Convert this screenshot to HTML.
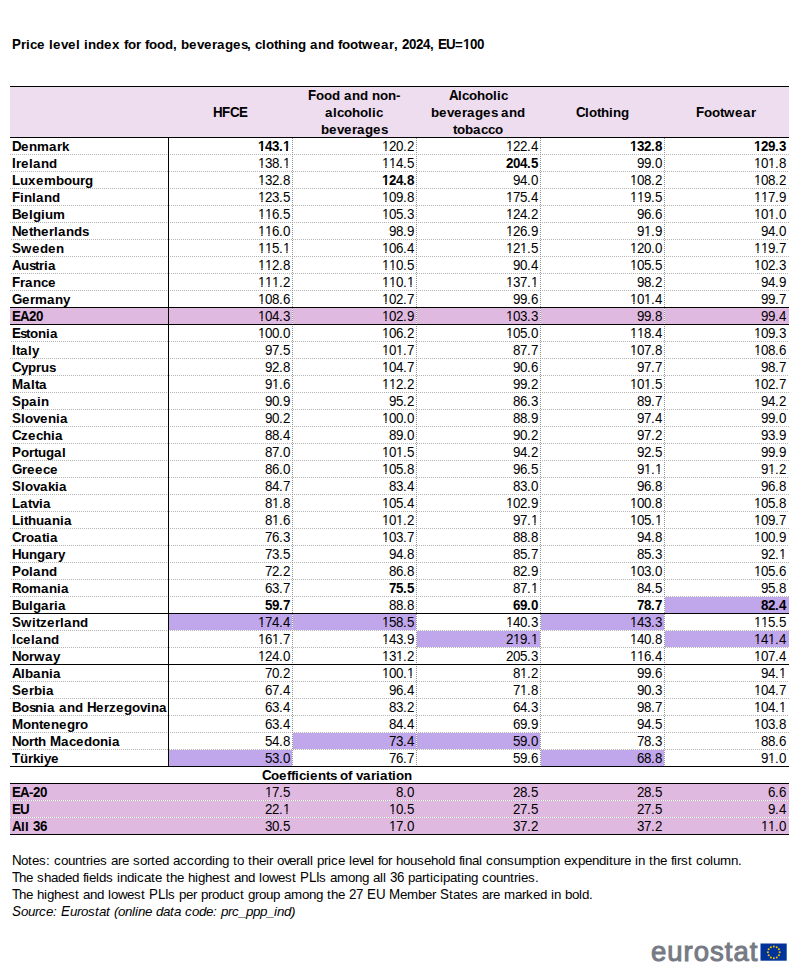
<!DOCTYPE html>
<html><head><meta charset="utf-8"><title>Price level index for food, beverages, clothing and footwear, 2024</title><style>
html,body{margin:0;padding:0;background:#fff}
body{width:803px;height:973px;position:relative;overflow:hidden;font-family:"Liberation Sans",sans-serif;color:#000;font-kerning:none}
i{position:absolute;display:block}
div{position:absolute;white-space:nowrap}
.tx{font-size:13.33px;line-height:17px;height:17px}
.tx span{display:inline-block;overflow:visible}
.tx .u{font-size:14.5px;line-height:16px;transform:scaleX(0.9195);transform-origin:0 0}
.b{font-weight:bold}
.it{font-style:italic}
.w1{width:1px}.w2{width:2px}.w3{width:3px}.w4{width:4px}.w5{width:5px}.w6{width:6px}.w7{width:7px}.w8{width:8px}.w9{width:9px}.w10{width:10px}.w11{width:11px}.w12{width:12px}.w13{width:13px}.w14{width:14px}.w15{width:15px}
.tx .o{clip-path:polygon(0 0,100% 0,100% 11px,4.93px 11px,4.93px 17px,3.65px 17px,3.65px 11px,0 11px)}
.b .o{clip-path:polygon(0 0,100% 0,100% 10.8px,5.37px 10.8px,5.37px 17px,3.38px 17px,3.38px 10.8px,0 10.8px)}
.logo{left:651px;top:934.5px;font-size:27.5px;line-height:34px;color:#767a84;-webkit-text-stroke:1px #767a84;letter-spacing:1px}
</style></head><body>
<i style="left:10px;top:87px;width:779px;height:50px;background:#eedcef"></i><i style="left:10px;top:154px;width:779px;height:1px;background:repeating-linear-gradient(90deg,#b4b4b4 0 1px,transparent 1px 2px)"></i><i style="left:10px;top:171px;width:779px;height:1px;background:repeating-linear-gradient(90deg,transparent 0 1px,#b4b4b4 1px 2px)"></i><i style="left:10px;top:188px;width:779px;height:1px;background:repeating-linear-gradient(90deg,#b4b4b4 0 1px,transparent 1px 2px)"></i><i style="left:10px;top:205px;width:779px;height:1px;background:repeating-linear-gradient(90deg,transparent 0 1px,#b4b4b4 1px 2px)"></i><i style="left:10px;top:222px;width:779px;height:1px;background:repeating-linear-gradient(90deg,#b4b4b4 0 1px,transparent 1px 2px)"></i><i style="left:10px;top:239px;width:779px;height:1px;background:repeating-linear-gradient(90deg,transparent 0 1px,#b4b4b4 1px 2px)"></i><i style="left:10px;top:256px;width:779px;height:1px;background:repeating-linear-gradient(90deg,#b4b4b4 0 1px,transparent 1px 2px)"></i><i style="left:10px;top:273px;width:779px;height:1px;background:repeating-linear-gradient(90deg,transparent 0 1px,#b4b4b4 1px 2px)"></i><i style="left:10px;top:290px;width:779px;height:1px;background:repeating-linear-gradient(90deg,#b4b4b4 0 1px,transparent 1px 2px)"></i><i style="left:10px;top:308px;width:158px;height:16px;background:#e0b9e1"></i><i style="left:169px;top:308px;width:123px;height:16px;background:#e0b9e1"></i><i style="left:293px;top:308px;width:123px;height:16px;background:#e0b9e1"></i><i style="left:417px;top:308px;width:123px;height:16px;background:#e0b9e1"></i><i style="left:541px;top:308px;width:123px;height:16px;background:#e0b9e1"></i><i style="left:665px;top:308px;width:124px;height:16px;background:#e0b9e1"></i><i style="left:10px;top:341px;width:779px;height:1px;background:repeating-linear-gradient(90deg,transparent 0 1px,#b4b4b4 1px 2px)"></i><i style="left:10px;top:358px;width:779px;height:1px;background:repeating-linear-gradient(90deg,#b4b4b4 0 1px,transparent 1px 2px)"></i><i style="left:10px;top:375px;width:779px;height:1px;background:repeating-linear-gradient(90deg,transparent 0 1px,#b4b4b4 1px 2px)"></i><i style="left:10px;top:392px;width:779px;height:1px;background:repeating-linear-gradient(90deg,#b4b4b4 0 1px,transparent 1px 2px)"></i><i style="left:10px;top:409px;width:779px;height:1px;background:repeating-linear-gradient(90deg,transparent 0 1px,#b4b4b4 1px 2px)"></i><i style="left:10px;top:426px;width:779px;height:1px;background:repeating-linear-gradient(90deg,#b4b4b4 0 1px,transparent 1px 2px)"></i><i style="left:10px;top:443px;width:779px;height:1px;background:repeating-linear-gradient(90deg,transparent 0 1px,#b4b4b4 1px 2px)"></i><i style="left:10px;top:460px;width:779px;height:1px;background:repeating-linear-gradient(90deg,#b4b4b4 0 1px,transparent 1px 2px)"></i><i style="left:10px;top:477px;width:779px;height:1px;background:repeating-linear-gradient(90deg,transparent 0 1px,#b4b4b4 1px 2px)"></i><i style="left:10px;top:494px;width:779px;height:1px;background:repeating-linear-gradient(90deg,#b4b4b4 0 1px,transparent 1px 2px)"></i><i style="left:10px;top:511px;width:779px;height:1px;background:repeating-linear-gradient(90deg,transparent 0 1px,#b4b4b4 1px 2px)"></i><i style="left:10px;top:528px;width:779px;height:1px;background:repeating-linear-gradient(90deg,#b4b4b4 0 1px,transparent 1px 2px)"></i><i style="left:10px;top:545px;width:779px;height:1px;background:repeating-linear-gradient(90deg,transparent 0 1px,#b4b4b4 1px 2px)"></i><i style="left:10px;top:562px;width:779px;height:1px;background:repeating-linear-gradient(90deg,#b4b4b4 0 1px,transparent 1px 2px)"></i><i style="left:10px;top:579px;width:779px;height:1px;background:repeating-linear-gradient(90deg,transparent 0 1px,#b4b4b4 1px 2px)"></i><i style="left:10px;top:596px;width:779px;height:1px;background:repeating-linear-gradient(90deg,#b4b4b4 0 1px,transparent 1px 2px)"></i><i style="left:665px;top:597px;width:124px;height:16px;background:#c0a6eb"></i><i style="left:169px;top:614px;width:123px;height:16px;background:#c0a6eb"></i><i style="left:293px;top:614px;width:123px;height:16px;background:#c0a6eb"></i><i style="left:541px;top:614px;width:123px;height:16px;background:#c0a6eb"></i><i style="left:10px;top:630px;width:779px;height:1px;background:repeating-linear-gradient(90deg,#b4b4b4 0 1px,transparent 1px 2px)"></i><i style="left:417px;top:631px;width:123px;height:16px;background:#c0a6eb"></i><i style="left:665px;top:631px;width:124px;height:16px;background:#c0a6eb"></i><i style="left:10px;top:647px;width:779px;height:1px;background:repeating-linear-gradient(90deg,transparent 0 1px,#b4b4b4 1px 2px)"></i><i style="left:10px;top:681px;width:779px;height:1px;background:repeating-linear-gradient(90deg,transparent 0 1px,#b4b4b4 1px 2px)"></i><i style="left:10px;top:698px;width:779px;height:1px;background:repeating-linear-gradient(90deg,#b4b4b4 0 1px,transparent 1px 2px)"></i><i style="left:10px;top:715px;width:779px;height:1px;background:repeating-linear-gradient(90deg,transparent 0 1px,#b4b4b4 1px 2px)"></i><i style="left:10px;top:732px;width:779px;height:1px;background:repeating-linear-gradient(90deg,#b4b4b4 0 1px,transparent 1px 2px)"></i><i style="left:293px;top:733px;width:123px;height:16px;background:#c0a6eb"></i><i style="left:417px;top:733px;width:123px;height:16px;background:#c0a6eb"></i><i style="left:10px;top:749px;width:779px;height:1px;background:repeating-linear-gradient(90deg,transparent 0 1px,#b4b4b4 1px 2px)"></i><i style="left:169px;top:750px;width:123px;height:16px;background:#c0a6eb"></i><i style="left:541px;top:750px;width:123px;height:16px;background:#c0a6eb"></i><i style="left:292px;top:138px;width:1px;height:628px;background:repeating-linear-gradient(180deg,#949494 0 1px,transparent 1px 2px)"></i><i style="left:416px;top:138px;width:1px;height:628px;background:repeating-linear-gradient(180deg,#949494 0 1px,transparent 1px 2px)"></i><i style="left:540px;top:138px;width:1px;height:628px;background:repeating-linear-gradient(180deg,#949494 0 1px,transparent 1px 2px)"></i><i style="left:664px;top:138px;width:1px;height:628px;background:repeating-linear-gradient(180deg,#949494 0 1px,transparent 1px 2px)"></i><i style="left:10px;top:784px;width:779px;height:16px;background:#e0b9e1"></i><i style="left:10px;top:800px;width:779px;height:1px;background:repeating-linear-gradient(90deg,#b4b4b4 0 1px,transparent 1px 2px)"></i><i style="left:10px;top:801px;width:779px;height:16px;background:#e0b9e1"></i><i style="left:10px;top:817px;width:779px;height:1px;background:repeating-linear-gradient(90deg,transparent 0 1px,#b4b4b4 1px 2px)"></i><i style="left:10px;top:818px;width:779px;height:16px;background:#e0b9e1"></i><i style="left:10px;top:86px;width:779px;height:1px;background:#000"></i><i style="left:10px;top:137px;width:779px;height:1px;background:#000"></i><i style="left:10px;top:307px;width:779px;height:1px;background:#000"></i><i style="left:10px;top:324px;width:779px;height:1px;background:#000"></i><i style="left:10px;top:613px;width:779px;height:1px;background:#000"></i><i style="left:10px;top:664px;width:779px;height:1px;background:#000"></i><i style="left:10px;top:766px;width:779px;height:1px;background:#000"></i><i style="left:168px;top:138px;width:1px;height:629px;background:#000"></i><i style="left:10px;top:783px;width:779px;height:1px;background:#000"></i><i style="left:10px;top:834px;width:779px;height:1px;background:#000"></i>
<div class="tx b" style="left:12px;top:36px"><span class="w9 u">P</span><span class="w5">r</span><span class="w4">i</span><span class="w7">c</span><span class="w8">e</span><span class="w4"> </span><span class="w4">l</span><span class="w8">e</span><span class="w7">v</span><span class="w8">e</span><span class="w4">l</span><span class="w4"> </span><span class="w4">i</span><span class="w8">n</span><span class="w8">d</span><span class="w8">e</span><span class="w8">x</span><span class="w4"> </span><span class="w4">f</span><span class="w8">o</span><span class="w5">r</span><span class="w4"> </span><span class="w4">f</span><span class="w8">o</span><span class="w8">o</span><span class="w8">d</span><span class="w4">,</span><span class="w4"> </span><span class="w8">b</span><span class="w8">e</span><span class="w7">v</span><span class="w8">e</span><span class="w5">r</span><span class="w8">a</span><span class="w8">g</span><span class="w8">e</span><span class="w6">s</span><span class="w4">,</span><span class="w4"> </span><span class="w7">c</span><span class="w4">l</span><span class="w8">o</span><span class="w4">t</span><span class="w8">h</span><span class="w4">i</span><span class="w8">n</span><span class="w8">g</span><span class="w4"> </span><span class="w8">a</span><span class="w8">n</span><span class="w8">d</span><span class="w4"> </span><span class="w4">f</span><span class="w8">o</span><span class="w8">o</span><span class="w4">t</span><span class="w11">w</span><span class="w8">e</span><span class="w8">a</span><span class="w5">r</span><span class="w4">,</span><span class="w4"> </span><span class="w7 u">2</span><span class="w7 u">0</span><span class="w7 u">2</span><span class="w7 u">4</span><span class="w4">,</span><span class="w4"> </span><span class="w8 u">E</span><span class="w9 u">U</span><span class="w8">=</span><span class="w7 u o">1</span><span class="w7 u">0</span><span class="w7 u">0</span></div><div class="tx b" style="left:213px;top:104px"><span class="w9 u">H</span><span class="w8 u">F</span><span class="w9 u">C</span><span class="w8 u">E</span></div><div class="tx b" style="left:308px;top:87px"><span class="w8 u">F</span><span class="w8">o</span><span class="w8">o</span><span class="w8">d</span><span class="w4"> </span><span class="w8">a</span><span class="w8">n</span><span class="w8">d</span><span class="w4"> </span><span class="w8">n</span><span class="w8">o</span><span class="w8">n</span><span class="w4">-</span></div><div class="tx b" style="left:325px;top:104px"><span class="w8">a</span><span class="w4">l</span><span class="w7">c</span><span class="w8">o</span><span class="w8">h</span><span class="w8">o</span><span class="w4">l</span><span class="w4">i</span><span class="w7">c</span></div><div class="tx b" style="left:321px;top:121px"><span class="w8">b</span><span class="w8">e</span><span class="w7">v</span><span class="w8">e</span><span class="w5">r</span><span class="w8">a</span><span class="w8">g</span><span class="w8">e</span><span class="w6">s</span></div><div class="tx b" style="left:449px;top:87px"><span class="w9 u">A</span><span class="w4">l</span><span class="w7">c</span><span class="w8">o</span><span class="w8">h</span><span class="w8">o</span><span class="w4">l</span><span class="w4">i</span><span class="w7">c</span></div><div class="tx b" style="left:431px;top:104px"><span class="w8">b</span><span class="w8">e</span><span class="w7">v</span><span class="w8">e</span><span class="w5">r</span><span class="w8">a</span><span class="w8">g</span><span class="w8">e</span><span class="w6">s</span><span class="w4"> </span><span class="w8">a</span><span class="w8">n</span><span class="w8">d</span></div><div class="tx b" style="left:453px;top:121px"><span class="w4">t</span><span class="w8">o</span><span class="w8">b</span><span class="w8">a</span><span class="w7">c</span><span class="w7">c</span><span class="w8">o</span></div><div class="tx b" style="left:576px;top:104px"><span class="w9 u">C</span><span class="w4">l</span><span class="w8">o</span><span class="w4">t</span><span class="w8">h</span><span class="w4">i</span><span class="w8">n</span><span class="w8">g</span></div><div class="tx b" style="left:696px;top:104px"><span class="w8 u">F</span><span class="w8">o</span><span class="w8">o</span><span class="w4">t</span><span class="w11">w</span><span class="w8">e</span><span class="w8">a</span><span class="w5">r</span></div><div class="tx b" style="left:12px;top:138px"><span class="w9 u">D</span><span class="w8">e</span><span class="w8">n</span><span class="w12">m</span><span class="w8">a</span><span class="w5">r</span><span class="w7">k</span></div><div class="tx b" style="left:258px;top:138px"><span class="w7 u o">1</span><span class="w7 u">4</span><span class="w7 u">3</span><span class="w4">.</span><span class="w7 u o">1</span></div><div class="tx" style="left:382px;top:138px"><span class="w7 u o">1</span><span class="w7 u">2</span><span class="w7 u">0</span><span class="w4">.</span><span class="w7 u">2</span></div><div class="tx" style="left:506px;top:138px"><span class="w7 u o">1</span><span class="w7 u">2</span><span class="w7 u">2</span><span class="w4">.</span><span class="w7 u">4</span></div><div class="tx b" style="left:630px;top:138px"><span class="w7 u o">1</span><span class="w7 u">3</span><span class="w7 u">2</span><span class="w4">.</span><span class="w7 u">8</span></div><div class="tx b" style="left:754px;top:138px"><span class="w7 u o">1</span><span class="w7 u">2</span><span class="w7 u">9</span><span class="w4">.</span><span class="w7 u">3</span></div><div class="tx b" style="left:12px;top:155px"><span class="w4 u">I</span><span class="w5">r</span><span class="w8">e</span><span class="w4">l</span><span class="w8">a</span><span class="w8">n</span><span class="w8">d</span></div><div class="tx" style="left:258px;top:155px"><span class="w7 u o">1</span><span class="w7 u">3</span><span class="w7 u">8</span><span class="w4">.</span><span class="w7 u o">1</span></div><div class="tx" style="left:382px;top:155px"><span class="w7 u o">1</span><span class="w7 u o">1</span><span class="w7 u">4</span><span class="w4">.</span><span class="w7 u">5</span></div><div class="tx b" style="left:506px;top:155px"><span class="w7 u">2</span><span class="w7 u">0</span><span class="w7 u">4</span><span class="w4">.</span><span class="w7 u">5</span></div><div class="tx" style="left:637px;top:155px"><span class="w7 u">9</span><span class="w7 u">9</span><span class="w4">.</span><span class="w7 u">0</span></div><div class="tx" style="left:754px;top:155px"><span class="w7 u o">1</span><span class="w7 u">0</span><span class="w7 u o">1</span><span class="w4">.</span><span class="w7 u">8</span></div><div class="tx b" style="left:12px;top:172px"><span class="w8 u">L</span><span class="w8">u</span><span class="w8">x</span><span class="w8">e</span><span class="w12">m</span><span class="w8">b</span><span class="w8">o</span><span class="w8">u</span><span class="w5">r</span><span class="w8">g</span></div><div class="tx" style="left:258px;top:172px"><span class="w7 u o">1</span><span class="w7 u">3</span><span class="w7 u">2</span><span class="w4">.</span><span class="w7 u">8</span></div><div class="tx b" style="left:382px;top:172px"><span class="w7 u o">1</span><span class="w7 u">2</span><span class="w7 u">4</span><span class="w4">.</span><span class="w7 u">8</span></div><div class="tx" style="left:513px;top:172px"><span class="w7 u">9</span><span class="w7 u">4</span><span class="w4">.</span><span class="w7 u">0</span></div><div class="tx" style="left:630px;top:172px"><span class="w7 u o">1</span><span class="w7 u">0</span><span class="w7 u">8</span><span class="w4">.</span><span class="w7 u">2</span></div><div class="tx" style="left:754px;top:172px"><span class="w7 u o">1</span><span class="w7 u">0</span><span class="w7 u">8</span><span class="w4">.</span><span class="w7 u">2</span></div><div class="tx b" style="left:12px;top:189px"><span class="w8 u">F</span><span class="w4">i</span><span class="w8">n</span><span class="w4">l</span><span class="w8">a</span><span class="w8">n</span><span class="w8">d</span></div><div class="tx" style="left:258px;top:189px"><span class="w7 u o">1</span><span class="w7 u">2</span><span class="w7 u">3</span><span class="w4">.</span><span class="w7 u">5</span></div><div class="tx" style="left:382px;top:189px"><span class="w7 u o">1</span><span class="w7 u">0</span><span class="w7 u">9</span><span class="w4">.</span><span class="w7 u">8</span></div><div class="tx" style="left:506px;top:189px"><span class="w7 u o">1</span><span class="w7 u">7</span><span class="w7 u">5</span><span class="w4">.</span><span class="w7 u">4</span></div><div class="tx" style="left:630px;top:189px"><span class="w7 u o">1</span><span class="w7 u o">1</span><span class="w7 u">9</span><span class="w4">.</span><span class="w7 u">5</span></div><div class="tx" style="left:754px;top:189px"><span class="w7 u o">1</span><span class="w7 u o">1</span><span class="w7 u">7</span><span class="w4">.</span><span class="w7 u">9</span></div><div class="tx b" style="left:12px;top:206px"><span class="w9 u">B</span><span class="w8">e</span><span class="w4">l</span><span class="w8">g</span><span class="w4">i</span><span class="w8">u</span><span class="w12">m</span></div><div class="tx" style="left:258px;top:206px"><span class="w7 u o">1</span><span class="w7 u o">1</span><span class="w7 u">6</span><span class="w4">.</span><span class="w7 u">5</span></div><div class="tx" style="left:382px;top:206px"><span class="w7 u o">1</span><span class="w7 u">0</span><span class="w7 u">5</span><span class="w4">.</span><span class="w7 u">3</span></div><div class="tx" style="left:506px;top:206px"><span class="w7 u o">1</span><span class="w7 u">2</span><span class="w7 u">4</span><span class="w4">.</span><span class="w7 u">2</span></div><div class="tx" style="left:637px;top:206px"><span class="w7 u">9</span><span class="w7 u">6</span><span class="w4">.</span><span class="w7 u">6</span></div><div class="tx" style="left:754px;top:206px"><span class="w7 u o">1</span><span class="w7 u">0</span><span class="w7 u o">1</span><span class="w4">.</span><span class="w7 u">0</span></div><div class="tx b" style="left:12px;top:223px"><span class="w9 u">N</span><span class="w8">e</span><span class="w4">t</span><span class="w8">h</span><span class="w8">e</span><span class="w5">r</span><span class="w4">l</span><span class="w8">a</span><span class="w8">n</span><span class="w8">d</span><span class="w6">s</span></div><div class="tx" style="left:258px;top:223px"><span class="w7 u o">1</span><span class="w7 u o">1</span><span class="w7 u">6</span><span class="w4">.</span><span class="w7 u">0</span></div><div class="tx" style="left:389px;top:223px"><span class="w7 u">9</span><span class="w7 u">8</span><span class="w4">.</span><span class="w7 u">9</span></div><div class="tx" style="left:506px;top:223px"><span class="w7 u o">1</span><span class="w7 u">2</span><span class="w7 u">6</span><span class="w4">.</span><span class="w7 u">9</span></div><div class="tx" style="left:637px;top:223px"><span class="w7 u">9</span><span class="w7 u o">1</span><span class="w4">.</span><span class="w7 u">9</span></div><div class="tx" style="left:761px;top:223px"><span class="w7 u">9</span><span class="w7 u">4</span><span class="w4">.</span><span class="w7 u">0</span></div><div class="tx b" style="left:12px;top:240px"><span class="w9 u">S</span><span class="w11">w</span><span class="w8">e</span><span class="w8">d</span><span class="w8">e</span><span class="w8">n</span></div><div class="tx" style="left:258px;top:240px"><span class="w7 u o">1</span><span class="w7 u o">1</span><span class="w7 u">5</span><span class="w4">.</span><span class="w7 u o">1</span></div><div class="tx" style="left:382px;top:240px"><span class="w7 u o">1</span><span class="w7 u">0</span><span class="w7 u">6</span><span class="w4">.</span><span class="w7 u">4</span></div><div class="tx" style="left:506px;top:240px"><span class="w7 u o">1</span><span class="w7 u">2</span><span class="w7 u o">1</span><span class="w4">.</span><span class="w7 u">5</span></div><div class="tx" style="left:630px;top:240px"><span class="w7 u o">1</span><span class="w7 u">2</span><span class="w7 u">0</span><span class="w4">.</span><span class="w7 u">0</span></div><div class="tx" style="left:754px;top:240px"><span class="w7 u o">1</span><span class="w7 u o">1</span><span class="w7 u">9</span><span class="w4">.</span><span class="w7 u">7</span></div><div class="tx b" style="left:12px;top:257px"><span class="w9 u">A</span><span class="w8">u</span><span class="w6">s</span><span class="w4">t</span><span class="w5">r</span><span class="w4">i</span><span class="w8">a</span></div><div class="tx" style="left:258px;top:257px"><span class="w7 u o">1</span><span class="w7 u o">1</span><span class="w7 u">2</span><span class="w4">.</span><span class="w7 u">8</span></div><div class="tx" style="left:382px;top:257px"><span class="w7 u o">1</span><span class="w7 u o">1</span><span class="w7 u">0</span><span class="w4">.</span><span class="w7 u">5</span></div><div class="tx" style="left:513px;top:257px"><span class="w7 u">9</span><span class="w7 u">0</span><span class="w4">.</span><span class="w7 u">4</span></div><div class="tx" style="left:630px;top:257px"><span class="w7 u o">1</span><span class="w7 u">0</span><span class="w7 u">5</span><span class="w4">.</span><span class="w7 u">5</span></div><div class="tx" style="left:754px;top:257px"><span class="w7 u o">1</span><span class="w7 u">0</span><span class="w7 u">2</span><span class="w4">.</span><span class="w7 u">3</span></div><div class="tx b" style="left:12px;top:274px"><span class="w8 u">F</span><span class="w5">r</span><span class="w8">a</span><span class="w8">n</span><span class="w7">c</span><span class="w8">e</span></div><div class="tx" style="left:258px;top:274px"><span class="w7 u o">1</span><span class="w7 u o">1</span><span class="w7 u o">1</span><span class="w4">.</span><span class="w7 u">2</span></div><div class="tx" style="left:382px;top:274px"><span class="w7 u o">1</span><span class="w7 u o">1</span><span class="w7 u">0</span><span class="w4">.</span><span class="w7 u o">1</span></div><div class="tx" style="left:506px;top:274px"><span class="w7 u o">1</span><span class="w7 u">3</span><span class="w7 u">7</span><span class="w4">.</span><span class="w7 u o">1</span></div><div class="tx" style="left:637px;top:274px"><span class="w7 u">9</span><span class="w7 u">8</span><span class="w4">.</span><span class="w7 u">2</span></div><div class="tx" style="left:761px;top:274px"><span class="w7 u">9</span><span class="w7 u">4</span><span class="w4">.</span><span class="w7 u">9</span></div><div class="tx b" style="left:12px;top:291px"><span class="w10 u">G</span><span class="w8">e</span><span class="w5">r</span><span class="w12">m</span><span class="w8">a</span><span class="w8">n</span><span class="w7">y</span></div><div class="tx" style="left:258px;top:291px"><span class="w7 u o">1</span><span class="w7 u">0</span><span class="w7 u">8</span><span class="w4">.</span><span class="w7 u">6</span></div><div class="tx" style="left:382px;top:291px"><span class="w7 u o">1</span><span class="w7 u">0</span><span class="w7 u">2</span><span class="w4">.</span><span class="w7 u">7</span></div><div class="tx" style="left:513px;top:291px"><span class="w7 u">9</span><span class="w7 u">9</span><span class="w4">.</span><span class="w7 u">6</span></div><div class="tx" style="left:630px;top:291px"><span class="w7 u o">1</span><span class="w7 u">0</span><span class="w7 u o">1</span><span class="w4">.</span><span class="w7 u">4</span></div><div class="tx" style="left:761px;top:291px"><span class="w7 u">9</span><span class="w7 u">9</span><span class="w4">.</span><span class="w7 u">7</span></div><div class="tx b" style="left:12px;top:308px"><span class="w8 u">E</span><span class="w9 u">A</span><span class="w7 u">2</span><span class="w7 u">0</span></div><div class="tx" style="left:258px;top:308px"><span class="w7 u o">1</span><span class="w7 u">0</span><span class="w7 u">4</span><span class="w4">.</span><span class="w7 u">3</span></div><div class="tx" style="left:382px;top:308px"><span class="w7 u o">1</span><span class="w7 u">0</span><span class="w7 u">2</span><span class="w4">.</span><span class="w7 u">9</span></div><div class="tx" style="left:506px;top:308px"><span class="w7 u o">1</span><span class="w7 u">0</span><span class="w7 u">3</span><span class="w4">.</span><span class="w7 u">3</span></div><div class="tx" style="left:637px;top:308px"><span class="w7 u">9</span><span class="w7 u">9</span><span class="w4">.</span><span class="w7 u">8</span></div><div class="tx" style="left:761px;top:308px"><span class="w7 u">9</span><span class="w7 u">9</span><span class="w4">.</span><span class="w7 u">4</span></div><div class="tx b" style="left:12px;top:325px"><span class="w8 u">E</span><span class="w6">s</span><span class="w4">t</span><span class="w8">o</span><span class="w8">n</span><span class="w4">i</span><span class="w8">a</span></div><div class="tx" style="left:258px;top:325px"><span class="w7 u o">1</span><span class="w7 u">0</span><span class="w7 u">0</span><span class="w4">.</span><span class="w7 u">0</span></div><div class="tx" style="left:382px;top:325px"><span class="w7 u o">1</span><span class="w7 u">0</span><span class="w7 u">6</span><span class="w4">.</span><span class="w7 u">2</span></div><div class="tx" style="left:506px;top:325px"><span class="w7 u o">1</span><span class="w7 u">0</span><span class="w7 u">5</span><span class="w4">.</span><span class="w7 u">0</span></div><div class="tx" style="left:630px;top:325px"><span class="w7 u o">1</span><span class="w7 u o">1</span><span class="w7 u">8</span><span class="w4">.</span><span class="w7 u">4</span></div><div class="tx" style="left:754px;top:325px"><span class="w7 u o">1</span><span class="w7 u">0</span><span class="w7 u">9</span><span class="w4">.</span><span class="w7 u">3</span></div><div class="tx b" style="left:12px;top:342px"><span class="w4 u">I</span><span class="w4">t</span><span class="w8">a</span><span class="w4">l</span><span class="w7">y</span></div><div class="tx" style="left:265px;top:342px"><span class="w7 u">9</span><span class="w7 u">7</span><span class="w4">.</span><span class="w7 u">5</span></div><div class="tx" style="left:382px;top:342px"><span class="w7 u o">1</span><span class="w7 u">0</span><span class="w7 u o">1</span><span class="w4">.</span><span class="w7 u">7</span></div><div class="tx" style="left:513px;top:342px"><span class="w7 u">8</span><span class="w7 u">7</span><span class="w4">.</span><span class="w7 u">7</span></div><div class="tx" style="left:630px;top:342px"><span class="w7 u o">1</span><span class="w7 u">0</span><span class="w7 u">7</span><span class="w4">.</span><span class="w7 u">8</span></div><div class="tx" style="left:754px;top:342px"><span class="w7 u o">1</span><span class="w7 u">0</span><span class="w7 u">8</span><span class="w4">.</span><span class="w7 u">6</span></div><div class="tx b" style="left:12px;top:359px"><span class="w9 u">C</span><span class="w7">y</span><span class="w8">p</span><span class="w5">r</span><span class="w8">u</span><span class="w6">s</span></div><div class="tx" style="left:265px;top:359px"><span class="w7 u">9</span><span class="w7 u">2</span><span class="w4">.</span><span class="w7 u">8</span></div><div class="tx" style="left:382px;top:359px"><span class="w7 u o">1</span><span class="w7 u">0</span><span class="w7 u">4</span><span class="w4">.</span><span class="w7 u">7</span></div><div class="tx" style="left:513px;top:359px"><span class="w7 u">9</span><span class="w7 u">0</span><span class="w4">.</span><span class="w7 u">6</span></div><div class="tx" style="left:637px;top:359px"><span class="w7 u">9</span><span class="w7 u">7</span><span class="w4">.</span><span class="w7 u">7</span></div><div class="tx" style="left:761px;top:359px"><span class="w7 u">9</span><span class="w7 u">8</span><span class="w4">.</span><span class="w7 u">7</span></div><div class="tx b" style="left:12px;top:376px"><span class="w11 u">M</span><span class="w8">a</span><span class="w4">l</span><span class="w4">t</span><span class="w8">a</span></div><div class="tx" style="left:265px;top:376px"><span class="w7 u">9</span><span class="w7 u o">1</span><span class="w4">.</span><span class="w7 u">6</span></div><div class="tx" style="left:382px;top:376px"><span class="w7 u o">1</span><span class="w7 u o">1</span><span class="w7 u">2</span><span class="w4">.</span><span class="w7 u">2</span></div><div class="tx" style="left:513px;top:376px"><span class="w7 u">9</span><span class="w7 u">9</span><span class="w4">.</span><span class="w7 u">2</span></div><div class="tx" style="left:630px;top:376px"><span class="w7 u o">1</span><span class="w7 u">0</span><span class="w7 u o">1</span><span class="w4">.</span><span class="w7 u">5</span></div><div class="tx" style="left:754px;top:376px"><span class="w7 u o">1</span><span class="w7 u">0</span><span class="w7 u">2</span><span class="w4">.</span><span class="w7 u">7</span></div><div class="tx b" style="left:12px;top:393px"><span class="w9 u">S</span><span class="w8">p</span><span class="w8">a</span><span class="w4">i</span><span class="w8">n</span></div><div class="tx" style="left:265px;top:393px"><span class="w7 u">9</span><span class="w7 u">0</span><span class="w4">.</span><span class="w7 u">9</span></div><div class="tx" style="left:389px;top:393px"><span class="w7 u">9</span><span class="w7 u">5</span><span class="w4">.</span><span class="w7 u">2</span></div><div class="tx" style="left:513px;top:393px"><span class="w7 u">8</span><span class="w7 u">6</span><span class="w4">.</span><span class="w7 u">3</span></div><div class="tx" style="left:637px;top:393px"><span class="w7 u">8</span><span class="w7 u">9</span><span class="w4">.</span><span class="w7 u">7</span></div><div class="tx" style="left:761px;top:393px"><span class="w7 u">9</span><span class="w7 u">4</span><span class="w4">.</span><span class="w7 u">2</span></div><div class="tx b" style="left:12px;top:410px"><span class="w9 u">S</span><span class="w4">l</span><span class="w8">o</span><span class="w7">v</span><span class="w8">e</span><span class="w8">n</span><span class="w4">i</span><span class="w8">a</span></div><div class="tx" style="left:265px;top:410px"><span class="w7 u">9</span><span class="w7 u">0</span><span class="w4">.</span><span class="w7 u">2</span></div><div class="tx" style="left:382px;top:410px"><span class="w7 u o">1</span><span class="w7 u">0</span><span class="w7 u">0</span><span class="w4">.</span><span class="w7 u">0</span></div><div class="tx" style="left:513px;top:410px"><span class="w7 u">8</span><span class="w7 u">8</span><span class="w4">.</span><span class="w7 u">9</span></div><div class="tx" style="left:637px;top:410px"><span class="w7 u">9</span><span class="w7 u">7</span><span class="w4">.</span><span class="w7 u">4</span></div><div class="tx" style="left:761px;top:410px"><span class="w7 u">9</span><span class="w7 u">9</span><span class="w4">.</span><span class="w7 u">0</span></div><div class="tx b" style="left:12px;top:427px"><span class="w9 u">C</span><span class="w7">z</span><span class="w8">e</span><span class="w7">c</span><span class="w8">h</span><span class="w4">i</span><span class="w8">a</span></div><div class="tx" style="left:265px;top:427px"><span class="w7 u">8</span><span class="w7 u">8</span><span class="w4">.</span><span class="w7 u">4</span></div><div class="tx" style="left:389px;top:427px"><span class="w7 u">8</span><span class="w7 u">9</span><span class="w4">.</span><span class="w7 u">0</span></div><div class="tx" style="left:513px;top:427px"><span class="w7 u">9</span><span class="w7 u">0</span><span class="w4">.</span><span class="w7 u">2</span></div><div class="tx" style="left:637px;top:427px"><span class="w7 u">9</span><span class="w7 u">7</span><span class="w4">.</span><span class="w7 u">2</span></div><div class="tx" style="left:761px;top:427px"><span class="w7 u">9</span><span class="w7 u">3</span><span class="w4">.</span><span class="w7 u">9</span></div><div class="tx b" style="left:12px;top:444px"><span class="w9 u">P</span><span class="w8">o</span><span class="w5">r</span><span class="w4">t</span><span class="w8">u</span><span class="w8">g</span><span class="w8">a</span><span class="w4">l</span></div><div class="tx" style="left:265px;top:444px"><span class="w7 u">8</span><span class="w7 u">7</span><span class="w4">.</span><span class="w7 u">0</span></div><div class="tx" style="left:382px;top:444px"><span class="w7 u o">1</span><span class="w7 u">0</span><span class="w7 u o">1</span><span class="w4">.</span><span class="w7 u">5</span></div><div class="tx" style="left:513px;top:444px"><span class="w7 u">9</span><span class="w7 u">4</span><span class="w4">.</span><span class="w7 u">2</span></div><div class="tx" style="left:637px;top:444px"><span class="w7 u">9</span><span class="w7 u">2</span><span class="w4">.</span><span class="w7 u">5</span></div><div class="tx" style="left:761px;top:444px"><span class="w7 u">9</span><span class="w7 u">9</span><span class="w4">.</span><span class="w7 u">9</span></div><div class="tx b" style="left:12px;top:461px"><span class="w10 u">G</span><span class="w5">r</span><span class="w8">e</span><span class="w8">e</span><span class="w7">c</span><span class="w8">e</span></div><div class="tx" style="left:265px;top:461px"><span class="w7 u">8</span><span class="w7 u">6</span><span class="w4">.</span><span class="w7 u">0</span></div><div class="tx" style="left:382px;top:461px"><span class="w7 u o">1</span><span class="w7 u">0</span><span class="w7 u">5</span><span class="w4">.</span><span class="w7 u">8</span></div><div class="tx" style="left:513px;top:461px"><span class="w7 u">9</span><span class="w7 u">6</span><span class="w4">.</span><span class="w7 u">5</span></div><div class="tx" style="left:637px;top:461px"><span class="w7 u">9</span><span class="w7 u o">1</span><span class="w4">.</span><span class="w7 u o">1</span></div><div class="tx" style="left:761px;top:461px"><span class="w7 u">9</span><span class="w7 u o">1</span><span class="w4">.</span><span class="w7 u">2</span></div><div class="tx b" style="left:12px;top:478px"><span class="w9 u">S</span><span class="w4">l</span><span class="w8">o</span><span class="w7">v</span><span class="w8">a</span><span class="w7">k</span><span class="w4">i</span><span class="w8">a</span></div><div class="tx" style="left:265px;top:478px"><span class="w7 u">8</span><span class="w7 u">4</span><span class="w4">.</span><span class="w7 u">7</span></div><div class="tx" style="left:389px;top:478px"><span class="w7 u">8</span><span class="w7 u">3</span><span class="w4">.</span><span class="w7 u">4</span></div><div class="tx" style="left:513px;top:478px"><span class="w7 u">8</span><span class="w7 u">3</span><span class="w4">.</span><span class="w7 u">0</span></div><div class="tx" style="left:637px;top:478px"><span class="w7 u">9</span><span class="w7 u">6</span><span class="w4">.</span><span class="w7 u">8</span></div><div class="tx" style="left:761px;top:478px"><span class="w7 u">9</span><span class="w7 u">6</span><span class="w4">.</span><span class="w7 u">8</span></div><div class="tx b" style="left:12px;top:495px"><span class="w8 u">L</span><span class="w8">a</span><span class="w4">t</span><span class="w7">v</span><span class="w4">i</span><span class="w8">a</span></div><div class="tx" style="left:265px;top:495px"><span class="w7 u">8</span><span class="w7 u o">1</span><span class="w4">.</span><span class="w7 u">8</span></div><div class="tx" style="left:382px;top:495px"><span class="w7 u o">1</span><span class="w7 u">0</span><span class="w7 u">5</span><span class="w4">.</span><span class="w7 u">4</span></div><div class="tx" style="left:506px;top:495px"><span class="w7 u o">1</span><span class="w7 u">0</span><span class="w7 u">2</span><span class="w4">.</span><span class="w7 u">9</span></div><div class="tx" style="left:630px;top:495px"><span class="w7 u o">1</span><span class="w7 u">0</span><span class="w7 u">0</span><span class="w4">.</span><span class="w7 u">8</span></div><div class="tx" style="left:754px;top:495px"><span class="w7 u o">1</span><span class="w7 u">0</span><span class="w7 u">5</span><span class="w4">.</span><span class="w7 u">8</span></div><div class="tx b" style="left:12px;top:512px"><span class="w8 u">L</span><span class="w4">i</span><span class="w4">t</span><span class="w8">h</span><span class="w8">u</span><span class="w8">a</span><span class="w8">n</span><span class="w4">i</span><span class="w8">a</span></div><div class="tx" style="left:265px;top:512px"><span class="w7 u">8</span><span class="w7 u o">1</span><span class="w4">.</span><span class="w7 u">6</span></div><div class="tx" style="left:382px;top:512px"><span class="w7 u o">1</span><span class="w7 u">0</span><span class="w7 u o">1</span><span class="w4">.</span><span class="w7 u">2</span></div><div class="tx" style="left:513px;top:512px"><span class="w7 u">9</span><span class="w7 u">7</span><span class="w4">.</span><span class="w7 u o">1</span></div><div class="tx" style="left:630px;top:512px"><span class="w7 u o">1</span><span class="w7 u">0</span><span class="w7 u">5</span><span class="w4">.</span><span class="w7 u o">1</span></div><div class="tx" style="left:754px;top:512px"><span class="w7 u o">1</span><span class="w7 u">0</span><span class="w7 u">9</span><span class="w4">.</span><span class="w7 u">7</span></div><div class="tx b" style="left:12px;top:529px"><span class="w9 u">C</span><span class="w5">r</span><span class="w8">o</span><span class="w8">a</span><span class="w4">t</span><span class="w4">i</span><span class="w8">a</span></div><div class="tx" style="left:265px;top:529px"><span class="w7 u">7</span><span class="w7 u">6</span><span class="w4">.</span><span class="w7 u">3</span></div><div class="tx" style="left:382px;top:529px"><span class="w7 u o">1</span><span class="w7 u">0</span><span class="w7 u">3</span><span class="w4">.</span><span class="w7 u">7</span></div><div class="tx" style="left:513px;top:529px"><span class="w7 u">8</span><span class="w7 u">8</span><span class="w4">.</span><span class="w7 u">8</span></div><div class="tx" style="left:637px;top:529px"><span class="w7 u">9</span><span class="w7 u">4</span><span class="w4">.</span><span class="w7 u">8</span></div><div class="tx" style="left:754px;top:529px"><span class="w7 u o">1</span><span class="w7 u">0</span><span class="w7 u">0</span><span class="w4">.</span><span class="w7 u">9</span></div><div class="tx b" style="left:12px;top:546px"><span class="w9 u">H</span><span class="w8">u</span><span class="w8">n</span><span class="w8">g</span><span class="w8">a</span><span class="w5">r</span><span class="w7">y</span></div><div class="tx" style="left:265px;top:546px"><span class="w7 u">7</span><span class="w7 u">3</span><span class="w4">.</span><span class="w7 u">5</span></div><div class="tx" style="left:389px;top:546px"><span class="w7 u">9</span><span class="w7 u">4</span><span class="w4">.</span><span class="w7 u">8</span></div><div class="tx" style="left:513px;top:546px"><span class="w7 u">8</span><span class="w7 u">5</span><span class="w4">.</span><span class="w7 u">7</span></div><div class="tx" style="left:637px;top:546px"><span class="w7 u">8</span><span class="w7 u">5</span><span class="w4">.</span><span class="w7 u">3</span></div><div class="tx" style="left:761px;top:546px"><span class="w7 u">9</span><span class="w7 u">2</span><span class="w4">.</span><span class="w7 u o">1</span></div><div class="tx b" style="left:12px;top:563px"><span class="w9 u">P</span><span class="w8">o</span><span class="w4">l</span><span class="w8">a</span><span class="w8">n</span><span class="w8">d</span></div><div class="tx" style="left:265px;top:563px"><span class="w7 u">7</span><span class="w7 u">2</span><span class="w4">.</span><span class="w7 u">2</span></div><div class="tx" style="left:389px;top:563px"><span class="w7 u">8</span><span class="w7 u">6</span><span class="w4">.</span><span class="w7 u">8</span></div><div class="tx" style="left:513px;top:563px"><span class="w7 u">8</span><span class="w7 u">2</span><span class="w4">.</span><span class="w7 u">9</span></div><div class="tx" style="left:630px;top:563px"><span class="w7 u o">1</span><span class="w7 u">0</span><span class="w7 u">3</span><span class="w4">.</span><span class="w7 u">0</span></div><div class="tx" style="left:754px;top:563px"><span class="w7 u o">1</span><span class="w7 u">0</span><span class="w7 u">5</span><span class="w4">.</span><span class="w7 u">6</span></div><div class="tx b" style="left:12px;top:580px"><span class="w9 u">R</span><span class="w8">o</span><span class="w12">m</span><span class="w8">a</span><span class="w8">n</span><span class="w4">i</span><span class="w8">a</span></div><div class="tx" style="left:265px;top:580px"><span class="w7 u">6</span><span class="w7 u">3</span><span class="w4">.</span><span class="w7 u">7</span></div><div class="tx b" style="left:389px;top:580px"><span class="w7 u">7</span><span class="w7 u">5</span><span class="w4">.</span><span class="w7 u">5</span></div><div class="tx" style="left:513px;top:580px"><span class="w7 u">8</span><span class="w7 u">7</span><span class="w4">.</span><span class="w7 u o">1</span></div><div class="tx" style="left:637px;top:580px"><span class="w7 u">8</span><span class="w7 u">4</span><span class="w4">.</span><span class="w7 u">5</span></div><div class="tx" style="left:761px;top:580px"><span class="w7 u">9</span><span class="w7 u">5</span><span class="w4">.</span><span class="w7 u">8</span></div><div class="tx b" style="left:12px;top:597px"><span class="w9 u">B</span><span class="w8">u</span><span class="w4">l</span><span class="w8">g</span><span class="w8">a</span><span class="w5">r</span><span class="w4">i</span><span class="w8">a</span></div><div class="tx b" style="left:265px;top:597px"><span class="w7 u">5</span><span class="w7 u">9</span><span class="w4">.</span><span class="w7 u">7</span></div><div class="tx" style="left:389px;top:597px"><span class="w7 u">8</span><span class="w7 u">8</span><span class="w4">.</span><span class="w7 u">8</span></div><div class="tx b" style="left:513px;top:597px"><span class="w7 u">6</span><span class="w7 u">9</span><span class="w4">.</span><span class="w7 u">0</span></div><div class="tx b" style="left:637px;top:597px"><span class="w7 u">7</span><span class="w7 u">8</span><span class="w4">.</span><span class="w7 u">7</span></div><div class="tx b" style="left:761px;top:597px"><span class="w7 u">8</span><span class="w7 u">2</span><span class="w4">.</span><span class="w7 u">4</span></div><div class="tx b" style="left:12px;top:614px"><span class="w9 u">S</span><span class="w11">w</span><span class="w4">i</span><span class="w4">t</span><span class="w7">z</span><span class="w8">e</span><span class="w5">r</span><span class="w4">l</span><span class="w8">a</span><span class="w8">n</span><span class="w8">d</span></div><div class="tx" style="left:258px;top:614px"><span class="w7 u o">1</span><span class="w7 u">7</span><span class="w7 u">4</span><span class="w4">.</span><span class="w7 u">4</span></div><div class="tx" style="left:382px;top:614px"><span class="w7 u o">1</span><span class="w7 u">5</span><span class="w7 u">8</span><span class="w4">.</span><span class="w7 u">5</span></div><div class="tx" style="left:506px;top:614px"><span class="w7 u o">1</span><span class="w7 u">4</span><span class="w7 u">0</span><span class="w4">.</span><span class="w7 u">3</span></div><div class="tx" style="left:630px;top:614px"><span class="w7 u o">1</span><span class="w7 u">4</span><span class="w7 u">3</span><span class="w4">.</span><span class="w7 u">3</span></div><div class="tx" style="left:754px;top:614px"><span class="w7 u o">1</span><span class="w7 u o">1</span><span class="w7 u">5</span><span class="w4">.</span><span class="w7 u">5</span></div><div class="tx b" style="left:12px;top:631px"><span class="w4 u">I</span><span class="w7">c</span><span class="w8">e</span><span class="w4">l</span><span class="w8">a</span><span class="w8">n</span><span class="w8">d</span></div><div class="tx" style="left:258px;top:631px"><span class="w7 u o">1</span><span class="w7 u">6</span><span class="w7 u o">1</span><span class="w4">.</span><span class="w7 u">7</span></div><div class="tx" style="left:382px;top:631px"><span class="w7 u o">1</span><span class="w7 u">4</span><span class="w7 u">3</span><span class="w4">.</span><span class="w7 u">9</span></div><div class="tx" style="left:506px;top:631px"><span class="w7 u">2</span><span class="w7 u o">1</span><span class="w7 u">9</span><span class="w4">.</span><span class="w7 u o">1</span></div><div class="tx" style="left:630px;top:631px"><span class="w7 u o">1</span><span class="w7 u">4</span><span class="w7 u">0</span><span class="w4">.</span><span class="w7 u">8</span></div><div class="tx" style="left:754px;top:631px"><span class="w7 u o">1</span><span class="w7 u">4</span><span class="w7 u o">1</span><span class="w4">.</span><span class="w7 u">4</span></div><div class="tx b" style="left:12px;top:648px"><span class="w9 u">N</span><span class="w8">o</span><span class="w5">r</span><span class="w11">w</span><span class="w8">a</span><span class="w7">y</span></div><div class="tx" style="left:258px;top:648px"><span class="w7 u o">1</span><span class="w7 u">2</span><span class="w7 u">4</span><span class="w4">.</span><span class="w7 u">0</span></div><div class="tx" style="left:382px;top:648px"><span class="w7 u o">1</span><span class="w7 u">3</span><span class="w7 u o">1</span><span class="w4">.</span><span class="w7 u">2</span></div><div class="tx" style="left:506px;top:648px"><span class="w7 u">2</span><span class="w7 u">0</span><span class="w7 u">5</span><span class="w4">.</span><span class="w7 u">3</span></div><div class="tx" style="left:630px;top:648px"><span class="w7 u o">1</span><span class="w7 u o">1</span><span class="w7 u">6</span><span class="w4">.</span><span class="w7 u">4</span></div><div class="tx" style="left:754px;top:648px"><span class="w7 u o">1</span><span class="w7 u">0</span><span class="w7 u">7</span><span class="w4">.</span><span class="w7 u">4</span></div><div class="tx b" style="left:12px;top:665px"><span class="w9 u">A</span><span class="w4">l</span><span class="w8">b</span><span class="w8">a</span><span class="w8">n</span><span class="w4">i</span><span class="w8">a</span></div><div class="tx" style="left:265px;top:665px"><span class="w7 u">7</span><span class="w7 u">0</span><span class="w4">.</span><span class="w7 u">2</span></div><div class="tx" style="left:382px;top:665px"><span class="w7 u o">1</span><span class="w7 u">0</span><span class="w7 u">0</span><span class="w4">.</span><span class="w7 u o">1</span></div><div class="tx" style="left:513px;top:665px"><span class="w7 u">8</span><span class="w7 u o">1</span><span class="w4">.</span><span class="w7 u">2</span></div><div class="tx" style="left:637px;top:665px"><span class="w7 u">9</span><span class="w7 u">9</span><span class="w4">.</span><span class="w7 u">6</span></div><div class="tx" style="left:761px;top:665px"><span class="w7 u">9</span><span class="w7 u">4</span><span class="w4">.</span><span class="w7 u o">1</span></div><div class="tx b" style="left:12px;top:682px"><span class="w9 u">S</span><span class="w8">e</span><span class="w5">r</span><span class="w8">b</span><span class="w4">i</span><span class="w8">a</span></div><div class="tx" style="left:265px;top:682px"><span class="w7 u">6</span><span class="w7 u">7</span><span class="w4">.</span><span class="w7 u">4</span></div><div class="tx" style="left:389px;top:682px"><span class="w7 u">9</span><span class="w7 u">6</span><span class="w4">.</span><span class="w7 u">4</span></div><div class="tx" style="left:513px;top:682px"><span class="w7 u">7</span><span class="w7 u o">1</span><span class="w4">.</span><span class="w7 u">8</span></div><div class="tx" style="left:637px;top:682px"><span class="w7 u">9</span><span class="w7 u">0</span><span class="w4">.</span><span class="w7 u">3</span></div><div class="tx" style="left:754px;top:682px"><span class="w7 u o">1</span><span class="w7 u">0</span><span class="w7 u">4</span><span class="w4">.</span><span class="w7 u">7</span></div><div class="tx b" style="left:12px;top:699px"><span class="w9 u">B</span><span class="w8">o</span><span class="w6">s</span><span class="w8">n</span><span class="w4">i</span><span class="w8">a</span><span class="w4"> </span><span class="w8">a</span><span class="w8">n</span><span class="w8">d</span><span class="w4"> </span><span class="w9 u">H</span><span class="w8">e</span><span class="w5">r</span><span class="w7">z</span><span class="w8">e</span><span class="w8">g</span><span class="w8">o</span><span class="w7">v</span><span class="w4">i</span><span class="w8">n</span><span class="w8">a</span></div><div class="tx" style="left:265px;top:699px"><span class="w7 u">6</span><span class="w7 u">3</span><span class="w4">.</span><span class="w7 u">4</span></div><div class="tx" style="left:389px;top:699px"><span class="w7 u">8</span><span class="w7 u">3</span><span class="w4">.</span><span class="w7 u">2</span></div><div class="tx" style="left:513px;top:699px"><span class="w7 u">6</span><span class="w7 u">4</span><span class="w4">.</span><span class="w7 u">3</span></div><div class="tx" style="left:637px;top:699px"><span class="w7 u">9</span><span class="w7 u">8</span><span class="w4">.</span><span class="w7 u">7</span></div><div class="tx" style="left:754px;top:699px"><span class="w7 u o">1</span><span class="w7 u">0</span><span class="w7 u">4</span><span class="w4">.</span><span class="w7 u o">1</span></div><div class="tx b" style="left:12px;top:716px"><span class="w11 u">M</span><span class="w8">o</span><span class="w8">n</span><span class="w4">t</span><span class="w8">e</span><span class="w8">n</span><span class="w8">e</span><span class="w8">g</span><span class="w5">r</span><span class="w8">o</span></div><div class="tx" style="left:265px;top:716px"><span class="w7 u">6</span><span class="w7 u">3</span><span class="w4">.</span><span class="w7 u">4</span></div><div class="tx" style="left:389px;top:716px"><span class="w7 u">8</span><span class="w7 u">4</span><span class="w4">.</span><span class="w7 u">4</span></div><div class="tx" style="left:513px;top:716px"><span class="w7 u">6</span><span class="w7 u">9</span><span class="w4">.</span><span class="w7 u">9</span></div><div class="tx" style="left:637px;top:716px"><span class="w7 u">9</span><span class="w7 u">4</span><span class="w4">.</span><span class="w7 u">5</span></div><div class="tx" style="left:754px;top:716px"><span class="w7 u o">1</span><span class="w7 u">0</span><span class="w7 u">3</span><span class="w4">.</span><span class="w7 u">8</span></div><div class="tx b" style="left:12px;top:733px"><span class="w9 u">N</span><span class="w8">o</span><span class="w5">r</span><span class="w4">t</span><span class="w8">h</span><span class="w4"> </span><span class="w11 u">M</span><span class="w8">a</span><span class="w7">c</span><span class="w8">e</span><span class="w8">d</span><span class="w8">o</span><span class="w8">n</span><span class="w4">i</span><span class="w8">a</span></div><div class="tx" style="left:265px;top:733px"><span class="w7 u">5</span><span class="w7 u">4</span><span class="w4">.</span><span class="w7 u">8</span></div><div class="tx" style="left:389px;top:733px"><span class="w7 u">7</span><span class="w7 u">3</span><span class="w4">.</span><span class="w7 u">4</span></div><div class="tx" style="left:513px;top:733px"><span class="w7 u">5</span><span class="w7 u">9</span><span class="w4">.</span><span class="w7 u">0</span></div><div class="tx" style="left:637px;top:733px"><span class="w7 u">7</span><span class="w7 u">8</span><span class="w4">.</span><span class="w7 u">3</span></div><div class="tx" style="left:761px;top:733px"><span class="w7 u">8</span><span class="w7 u">8</span><span class="w4">.</span><span class="w7 u">6</span></div><div class="tx b" style="left:12px;top:750px"><span class="w8 u">T</span><span class="w8">ü</span><span class="w5">r</span><span class="w7">k</span><span class="w4">i</span><span class="w7">y</span><span class="w8">e</span></div><div class="tx" style="left:265px;top:750px"><span class="w7 u">5</span><span class="w7 u">3</span><span class="w4">.</span><span class="w7 u">0</span></div><div class="tx" style="left:389px;top:750px"><span class="w7 u">7</span><span class="w7 u">6</span><span class="w4">.</span><span class="w7 u">7</span></div><div class="tx" style="left:513px;top:750px"><span class="w7 u">5</span><span class="w7 u">9</span><span class="w4">.</span><span class="w7 u">6</span></div><div class="tx" style="left:637px;top:750px"><span class="w7 u">6</span><span class="w7 u">8</span><span class="w4">.</span><span class="w7 u">8</span></div><div class="tx" style="left:761px;top:750px"><span class="w7 u">9</span><span class="w7 u o">1</span><span class="w4">.</span><span class="w7 u">0</span></div><div class="tx b" style="left:262px;top:767px"><span class="w9 u">C</span><span class="w8">o</span><span class="w8">e</span><span class="w4">f</span><span class="w4">f</span><span class="w4">i</span><span class="w7">c</span><span class="w4">i</span><span class="w8">e</span><span class="w8">n</span><span class="w4">t</span><span class="w6">s</span><span class="w4"> </span><span class="w8">o</span><span class="w4">f</span><span class="w4"> </span><span class="w7">v</span><span class="w8">a</span><span class="w5">r</span><span class="w4">i</span><span class="w8">a</span><span class="w4">t</span><span class="w4">i</span><span class="w8">o</span><span class="w8">n</span></div><div class="tx b" style="left:12px;top:784px"><span class="w8 u">E</span><span class="w9 u">A</span><span class="w4">-</span><span class="w7 u">2</span><span class="w7 u">0</span></div><div class="tx" style="left:265px;top:784px"><span class="w7 u o">1</span><span class="w7 u">7</span><span class="w4">.</span><span class="w7 u">5</span></div><div class="tx" style="left:396px;top:784px"><span class="w7 u">8</span><span class="w4">.</span><span class="w7 u">0</span></div><div class="tx" style="left:513px;top:784px"><span class="w7 u">2</span><span class="w7 u">8</span><span class="w4">.</span><span class="w7 u">5</span></div><div class="tx" style="left:637px;top:784px"><span class="w7 u">2</span><span class="w7 u">8</span><span class="w4">.</span><span class="w7 u">5</span></div><div class="tx" style="left:768px;top:784px"><span class="w7 u">6</span><span class="w4">.</span><span class="w7 u">6</span></div><div class="tx b" style="left:12px;top:801px"><span class="w8 u">E</span><span class="w9 u">U</span></div><div class="tx" style="left:265px;top:801px"><span class="w7 u">2</span><span class="w7 u">2</span><span class="w4">.</span><span class="w7 u o">1</span></div><div class="tx" style="left:389px;top:801px"><span class="w7 u o">1</span><span class="w7 u">0</span><span class="w4">.</span><span class="w7 u">5</span></div><div class="tx" style="left:513px;top:801px"><span class="w7 u">2</span><span class="w7 u">7</span><span class="w4">.</span><span class="w7 u">5</span></div><div class="tx" style="left:637px;top:801px"><span class="w7 u">2</span><span class="w7 u">7</span><span class="w4">.</span><span class="w7 u">5</span></div><div class="tx" style="left:768px;top:801px"><span class="w7 u">9</span><span class="w4">.</span><span class="w7 u">4</span></div><div class="tx b" style="left:12px;top:818px"><span class="w9 u">A</span><span class="w4">l</span><span class="w4">l</span><span class="w4"> </span><span class="w7 u">3</span><span class="w7 u">6</span></div><div class="tx" style="left:265px;top:818px"><span class="w7 u">3</span><span class="w7 u">0</span><span class="w4">.</span><span class="w7 u">5</span></div><div class="tx" style="left:389px;top:818px"><span class="w7 u o">1</span><span class="w7 u">7</span><span class="w4">.</span><span class="w7 u">0</span></div><div class="tx" style="left:513px;top:818px"><span class="w7 u">3</span><span class="w7 u">7</span><span class="w4">.</span><span class="w7 u">2</span></div><div class="tx" style="left:637px;top:818px"><span class="w7 u">3</span><span class="w7 u">7</span><span class="w4">.</span><span class="w7 u">2</span></div><div class="tx" style="left:761px;top:818px"><span class="w7 u o">1</span><span class="w7 u o">1</span><span class="w4">.</span><span class="w7 u">0</span></div><div class="tx" style="left:12px;top:852px"><span class="w9 u">N</span><span class="w7">o</span><span class="w4">t</span><span class="w7">e</span><span class="w7">s</span><span class="w4">:</span><span class="w4"> </span><span class="w7">c</span><span class="w7">o</span><span class="w7">u</span><span class="w7">n</span><span class="w4">t</span><span class="w4">r</span><span class="w3">i</span><span class="w7">e</span><span class="w7">s</span><span class="w4"> </span><span class="w7">a</span><span class="w4">r</span><span class="w7">e</span><span class="w4"> </span><span class="w7">s</span><span class="w7">o</span><span class="w4">r</span><span class="w4">t</span><span class="w7">e</span><span class="w7">d</span><span class="w4"> </span><span class="w7">a</span><span class="w7">c</span><span class="w7">c</span><span class="w7">o</span><span class="w4">r</span><span class="w7">d</span><span class="w3">i</span><span class="w7">n</span><span class="w7">g</span><span class="w4"> </span><span class="w4">t</span><span class="w7">o</span><span class="w4"> </span><span class="w4">t</span><span class="w7">h</span><span class="w7">e</span><span class="w3">i</span><span class="w4">r</span><span class="w4"> </span><span class="w7">o</span><span class="w5">v</span><span class="w7">e</span><span class="w4">r</span><span class="w7">a</span><span class="w3">l</span><span class="w3">l</span><span class="w4"> </span><span class="w7">p</span><span class="w4">r</span><span class="w3">i</span><span class="w7">c</span><span class="w7">e</span><span class="w4"> </span><span class="w3">l</span><span class="w7">e</span><span class="w5">v</span><span class="w7">e</span><span class="w3">l</span><span class="w4"> </span><span class="w3">f</span><span class="w7">o</span><span class="w4">r</span><span class="w4"> </span><span class="w7">h</span><span class="w7">o</span><span class="w7">u</span><span class="w7">s</span><span class="w7">e</span><span class="w7">h</span><span class="w7">o</span><span class="w3">l</span><span class="w7">d</span><span class="w4"> </span><span class="w3">f</span><span class="w3">i</span><span class="w7">n</span><span class="w7">a</span><span class="w3">l</span><span class="w4"> </span><span class="w7">c</span><span class="w7">o</span><span class="w7">n</span><span class="w7">s</span><span class="w7">u</span><span class="w11">m</span><span class="w7">p</span><span class="w4">t</span><span class="w3">i</span><span class="w7">o</span><span class="w7">n</span><span class="w4"> </span><span class="w7">e</span><span class="w7">x</span><span class="w7">p</span><span class="w7">e</span><span class="w7">n</span><span class="w7">d</span><span class="w3">i</span><span class="w4">t</span><span class="w7">u</span><span class="w4">r</span><span class="w7">e</span><span class="w4"> </span><span class="w3">i</span><span class="w7">n</span><span class="w4"> </span><span class="w4">t</span><span class="w7">h</span><span class="w7">e</span><span class="w4"> </span><span class="w3">f</span><span class="w3">i</span><span class="w4">r</span><span class="w7">s</span><span class="w4">t</span><span class="w4"> </span><span class="w7">c</span><span class="w7">o</span><span class="w3">l</span><span class="w7">u</span><span class="w11">m</span><span class="w7">n</span><span class="w4">.</span></div><div class="tx" style="left:12px;top:869px"><span class="w7 u">T</span><span class="w7">h</span><span class="w7">e</span><span class="w4"> </span><span class="w7">s</span><span class="w7">h</span><span class="w7">a</span><span class="w7">d</span><span class="w7">e</span><span class="w7">d</span><span class="w4"> </span><span class="w3">f</span><span class="w3">i</span><span class="w7">e</span><span class="w3">l</span><span class="w7">d</span><span class="w7">s</span><span class="w4"> </span><span class="w3">i</span><span class="w7">n</span><span class="w7">d</span><span class="w3">i</span><span class="w7">c</span><span class="w7">a</span><span class="w4">t</span><span class="w7">e</span><span class="w4"> </span><span class="w4">t</span><span class="w7">h</span><span class="w7">e</span><span class="w4"> </span><span class="w7">h</span><span class="w3">i</span><span class="w7">g</span><span class="w7">h</span><span class="w7">e</span><span class="w7">s</span><span class="w4">t</span><span class="w4"> </span><span class="w7">a</span><span class="w7">n</span><span class="w7">d</span><span class="w4"> </span><span class="w3">l</span><span class="w7">o</span><span class="w9">w</span><span class="w7">e</span><span class="w7">s</span><span class="w4">t</span><span class="w4"> </span><span class="w9 u">P</span><span class="w7 u">L</span><span class="w3 u">I</span><span class="w7">s</span><span class="w4"> </span><span class="w7">a</span><span class="w11">m</span><span class="w7">o</span><span class="w7">n</span><span class="w7">g</span><span class="w4"> </span><span class="w7">a</span><span class="w3">l</span><span class="w3">l</span><span class="w4"> </span><span class="w7 u">3</span><span class="w7 u">6</span><span class="w4"> </span><span class="w7">p</span><span class="w7">a</span><span class="w4">r</span><span class="w4">t</span><span class="w3">i</span><span class="w7">c</span><span class="w3">i</span><span class="w7">p</span><span class="w7">a</span><span class="w4">t</span><span class="w3">i</span><span class="w7">n</span><span class="w7">g</span><span class="w4"> </span><span class="w7">c</span><span class="w7">o</span><span class="w7">u</span><span class="w7">n</span><span class="w4">t</span><span class="w4">r</span><span class="w3">i</span><span class="w7">e</span><span class="w7">s</span><span class="w4">.</span></div><div class="tx" style="left:12px;top:886px"><span class="w7 u">T</span><span class="w7">h</span><span class="w7">e</span><span class="w4"> </span><span class="w7">h</span><span class="w3">i</span><span class="w7">g</span><span class="w7">h</span><span class="w7">e</span><span class="w7">s</span><span class="w4">t</span><span class="w4"> </span><span class="w7">a</span><span class="w7">n</span><span class="w7">d</span><span class="w4"> </span><span class="w3">l</span><span class="w7">o</span><span class="w9">w</span><span class="w7">e</span><span class="w7">s</span><span class="w4">t</span><span class="w4"> </span><span class="w9 u">P</span><span class="w7 u">L</span><span class="w3 u">I</span><span class="w7">s</span><span class="w4"> </span><span class="w7">p</span><span class="w7">e</span><span class="w4">r</span><span class="w4"> </span><span class="w7">p</span><span class="w4">r</span><span class="w7">o</span><span class="w7">d</span><span class="w7">u</span><span class="w7">c</span><span class="w4">t</span><span class="w4"> </span><span class="w7">g</span><span class="w4">r</span><span class="w7">o</span><span class="w7">u</span><span class="w7">p</span><span class="w4"> </span><span class="w7">a</span><span class="w11">m</span><span class="w7">o</span><span class="w7">n</span><span class="w7">g</span><span class="w4"> </span><span class="w4">t</span><span class="w7">h</span><span class="w7">e</span><span class="w4"> </span><span class="w7 u">2</span><span class="w7 u">7</span><span class="w4"> </span><span class="w9 u">E</span><span class="w9 u">U</span><span class="w4"> </span><span class="w11 u">M</span><span class="w7">e</span><span class="w11">m</span><span class="w7">b</span><span class="w7">e</span><span class="w4">r</span><span class="w4"> </span><span class="w9 u">S</span><span class="w4">t</span><span class="w7">a</span><span class="w4">t</span><span class="w7">e</span><span class="w7">s</span><span class="w4"> </span><span class="w7">a</span><span class="w4">r</span><span class="w7">e</span><span class="w4"> </span><span class="w11">m</span><span class="w7">a</span><span class="w4">r</span><span class="w7">k</span><span class="w7">e</span><span class="w7">d</span><span class="w4"> </span><span class="w3">i</span><span class="w7">n</span><span class="w4"> </span><span class="w7">b</span><span class="w7">o</span><span class="w3">l</span><span class="w7">d</span><span class="w4">.</span></div><div class="tx it" style="left:12px;top:903px"><span class="w9 u">S</span><span class="w7">o</span><span class="w7">u</span><span class="w4">r</span><span class="w7">c</span><span class="w7">e</span><span class="w4">:</span><span class="w4"> </span><span class="w9 u">E</span><span class="w7">u</span><span class="w4">r</span><span class="w7">o</span><span class="w7">s</span><span class="w4">t</span><span class="w7">a</span><span class="w4">t</span><span class="w4"> </span><span class="w4">(</span><span class="w7">o</span><span class="w7">n</span><span class="w3">l</span><span class="w3">i</span><span class="w7">n</span><span class="w7">e</span><span class="w4"> </span><span class="w7">d</span><span class="w7">a</span><span class="w4">t</span><span class="w7">a</span><span class="w4"> </span><span class="w7">c</span><span class="w7">o</span><span class="w7">d</span><span class="w7">e</span><span class="w4">:</span><span class="w4"> </span><span class="w7">p</span><span class="w4">r</span><span class="w7">c</span><span class="w7">_</span><span class="w7">p</span><span class="w7">p</span><span class="w7">p</span><span class="w7">_</span><span class="w3">i</span><span class="w7">n</span><span class="w7">d</span><span class="w4">)</span></div>
<div class="logo">eurostat</div><svg style="position:absolute;left:0;top:0" width="803" height="973"><rect x="760.5" y="943.5" width="26.2" height="17.2" fill="#003399"/><g fill="#f2c400"><circle cx="773.80" cy="946.40" r="1"/><circle cx="776.75" cy="947.19" r="1"/><circle cx="778.91" cy="949.35" r="1"/><circle cx="779.70" cy="952.30" r="1"/><circle cx="778.91" cy="955.25" r="1"/><circle cx="776.75" cy="957.41" r="1"/><circle cx="773.80" cy="958.20" r="1"/><circle cx="770.85" cy="957.41" r="1"/><circle cx="768.69" cy="955.25" r="1"/><circle cx="767.90" cy="952.30" r="1"/><circle cx="768.69" cy="949.35" r="1"/><circle cx="770.85" cy="947.19" r="1"/></g></svg>
</body></html>
